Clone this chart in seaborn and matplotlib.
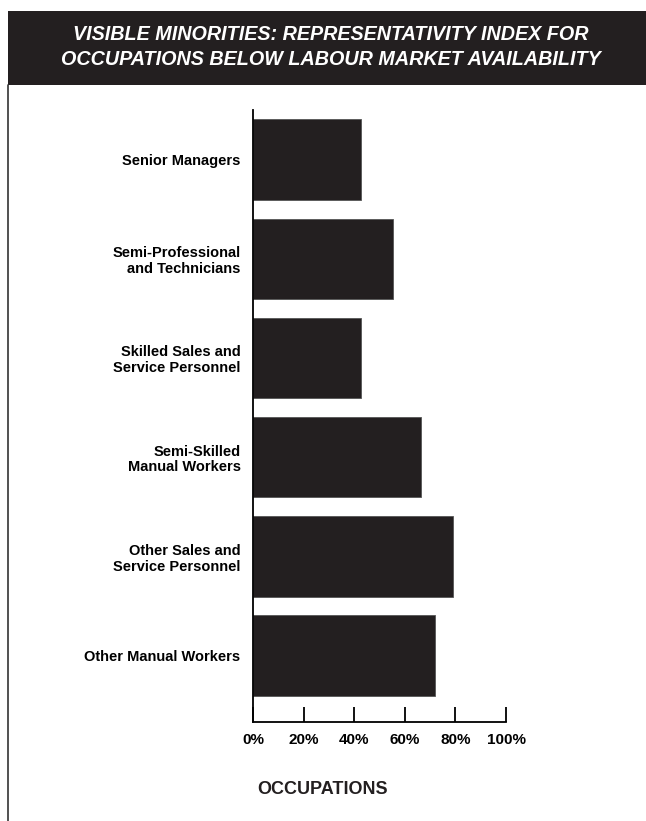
import matplotlib
matplotlib.use("Agg")
import matplotlib.pyplot as plt
import seaborn as sns
import pandas as pd
from matplotlib.patches import Rectangle
from matplotlib.lines import Line2D

categories = [
    "Senior Managers",
    "Semi-Professional\nand Technicians",
    "Skilled Sales and\nService Personnel",
    "Semi-Skilled\nManual Workers",
    "Other Sales and\nService Personnel",
    "Other Manual Workers",
]
values = [42.5, 55.5, 42.5, 66.5, 79, 72]
xticks = [0, 20, 40, 60, 80, 100]
xtick_labels = ["0%", "20%", "40%", "60%", "80%", "100%"]
title_lines = "VISIBLE MINORITIES: REPRESENTATIVITY INDEX FOR\nOCCUPATIONS BELOW LABOUR MARKET AVAILABILITY"
xlabel = "OCCUPATIONS"

sns.set_theme(style="white")
plt.rcParams["font.family"] = ["Liberation Sans", "DejaVu Sans"]

dark = "#231f20"
df = pd.DataFrame({"cat": categories, "val": values})

fig = plt.figure(figsize=(6.46, 8.21), dpi=100)
ax = fig.add_axes([253/646, 1-722/821, (506-253)/646, (722-110)/821])
sns.barplot(data=df, x="val", y="cat", color=dark, saturation=1, width=0.81,
            edgecolor="#555555", linewidth=0.6, ax=ax)
ax.set_xlim(0, 100)
ax.set_ylim(5.67, -0.5)
ax.set_xticks(xticks)
ax.set_xticklabels(xtick_labels, fontsize=11, fontweight="bold", color="black")
ax.set_yticklabels(categories, fontsize=10.5, fontweight="bold", color="black",
                   linespacing=1.15)
ax.tick_params(axis="x", bottom=True, direction="in", length=11, width=1.3, pad=8,
               color="black")
ax.tick_params(axis="y", left=False, length=0, pad=9)
for s in ["top", "right"]:
    ax.spines[s].set_visible(False)
for s in ["left", "bottom"]:
    ax.spines[s].set_color("black")
    ax.spines[s].set_linewidth(1.3)
ax.set_xlabel("")
ax.set_ylabel("")

# header band and frame
fig.patches.append(Rectangle((8/646, 1-85/821), 1, (85-11)/821, transform=fig.transFigure,
                             facecolor=dark, edgecolor="none", zorder=0))
fig.lines.append(Line2D([8/646, 8/646], [0, 1-85/821], transform=fig.transFigure,
                        color="#333333", linewidth=1.2))
fig.text(331/646, 1-47/821, title_lines, ha="center", va="center", color="white",
         fontsize=14.2, fontstyle="italic", fontweight="bold", linespacing=1.42)
fig.text(323/646, 1-789/821, xlabel, ha="center", va="center", color=dark,
         fontsize=13, fontweight="bold")

fig.savefig("out.png", dpi=100)
